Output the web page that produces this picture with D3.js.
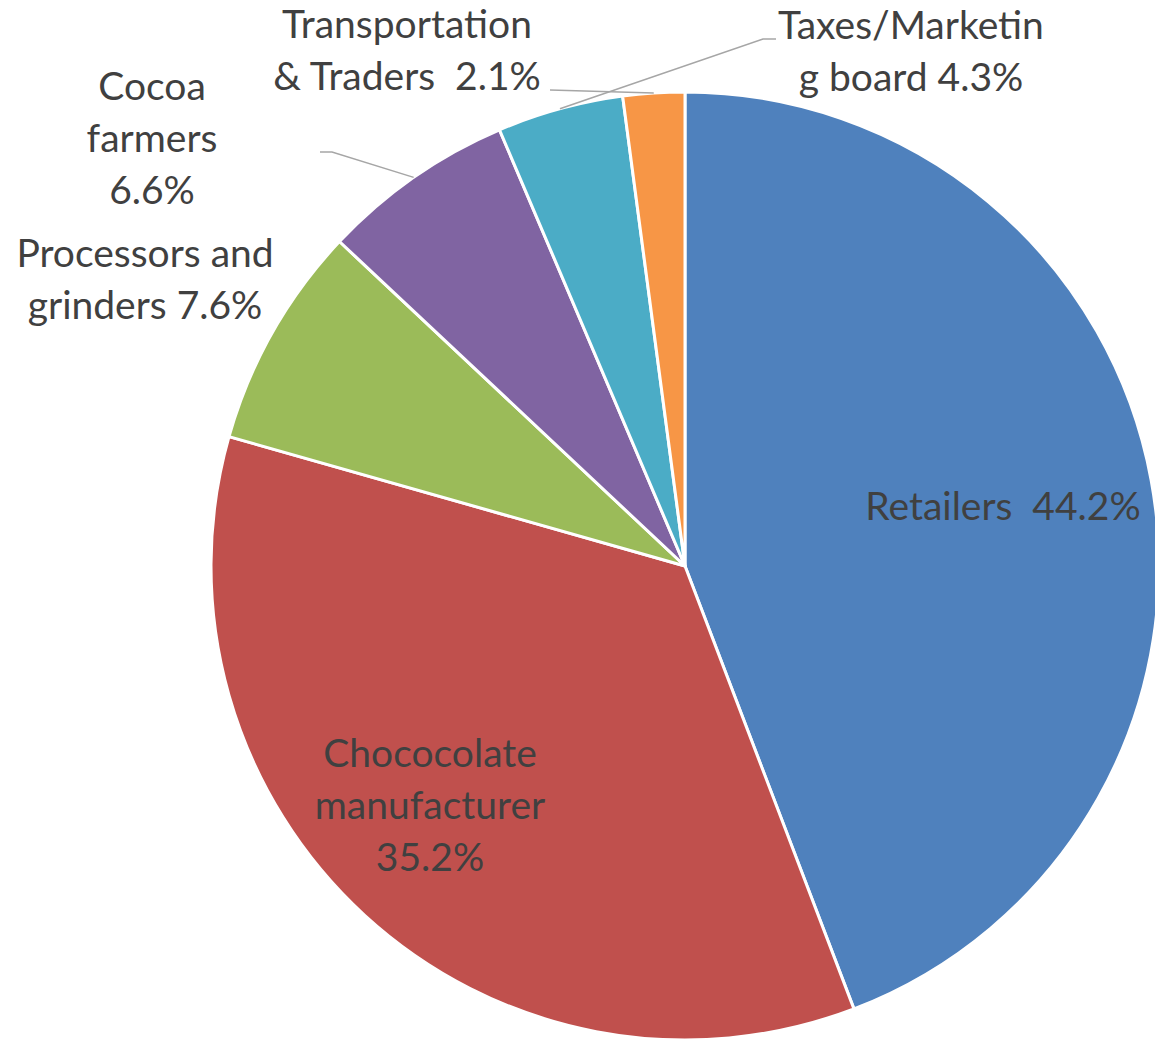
<!DOCTYPE html>
<html>
<head>
<meta charset="utf-8">
<script src="https://cdn.jsdelivr.net/npm/d3@7"></script>
<style>
  html, body { margin: 0; padding: 0; background: #ffffff; }
  svg { display: block; }
</style>
</head>
<body>
<svg id="chart" width="1155" height="1042"></svg>
<script>
// Share of the chocolate bar value chain, clockwise from 12 o'clock
const categories = [
  "Retailers",
  "Chococolate manufacturer",
  "Processors and grinders",
  "Cocoa farmers",
  "Taxes/Marketing board",
  "Transportation & Traders"
];
const shares = [44.2, 35.2, 7.6, 6.6, 4.3, 2.1];
const sliceColors = ["#4F81BD", "#C0504D", "#9BBB59", "#8064A2", "#4BACC6", "#F79646"];

// Label lines as wrapped in the chart (the last line carries the percentage)
const labelLines = [
  ["Retailers  {v}"],
  ["Chococolate", "manufacturer", "{v}"],
  ["Processors and", "grinders {v}"],
  ["Cocoa", "farmers", "{v}"],
  ["Taxes/Marketin", "g board {v}"],
  ["Transportation", "& Traders  {v}"]
];

// Layout: label anchor (centre x, first baseline), optional leader elbow
const labelLayout = [
  { x: 1003, y: 520 },
  { x: 430, y: 767 },
  { x: 145, y: 267 },
  { x: 152, y: 100, leader: [[320, 152], [332, 152]] },
  { x: 911, y: 39,  leader: [[776, 39], [763, 39]] },
  { x: 407, y: 38,  leader: [[550, 90]] }
];

const svg = d3.select("#chart");
const cx = 685, cy = 566, radius = 474;
const lineGap = 52;

const data = categories.map((c, i) => ({ name: c, value: shares[i], i }));

const pie = d3.pie().value(d => d.value).sort(null);
const arcs = pie(data);

const arc = d3.arc().innerRadius(0).outerRadius(radius);
const rim = d3.arc().innerRadius(radius).outerRadius(radius);

const g = svg.append("g").attr("transform", `translate(${cx},${cy})`);

g.selectAll("path.slice")
  .data(arcs)
  .join("path")
  .attr("class", "slice")
  .attr("d", arc)
  .attr("fill", d => sliceColors[d.data.i])
  .attr("stroke", "#ffffff")
  .attr("stroke-width", 3)
  .attr("stroke-linejoin", "round");

// Leader lines from outside labels to the middle of their slice's rim
const line = d3.line();
arcs.forEach(a => {
  const lay = labelLayout[a.data.i];
  if (!lay.leader) return;
  const mid = rim.centroid(a);
  const end = [cx + mid[0], cy + mid[1]];
  svg.append("path")
    .attr("d", line([...lay.leader, end]))
    .attr("fill", "none")
    .attr("stroke", "#A6A6A6")
    .attr("stroke-width", 1.5);
});

// Data labels
const fmt = d3.format(".1f");
data.forEach(d => {
  const lay = labelLayout[d.i];
  const t = svg.append("text")
    .attr("text-anchor", "middle")
    .attr("font-family", "Lato, 'Open Sans', sans-serif")
    .attr("font-size", 39)
    .attr("fill", "#404040");
  labelLines[d.i].forEach((ln, k) => {
    t.append("tspan")
      .attr("x", lay.x)
      .attr("y", lay.y + k * lineGap)
      .style("white-space", "pre")
      .text(ln.replace("{v}", fmt(d.value) + "%"));
  });
});
</script>
</body>
</html>
